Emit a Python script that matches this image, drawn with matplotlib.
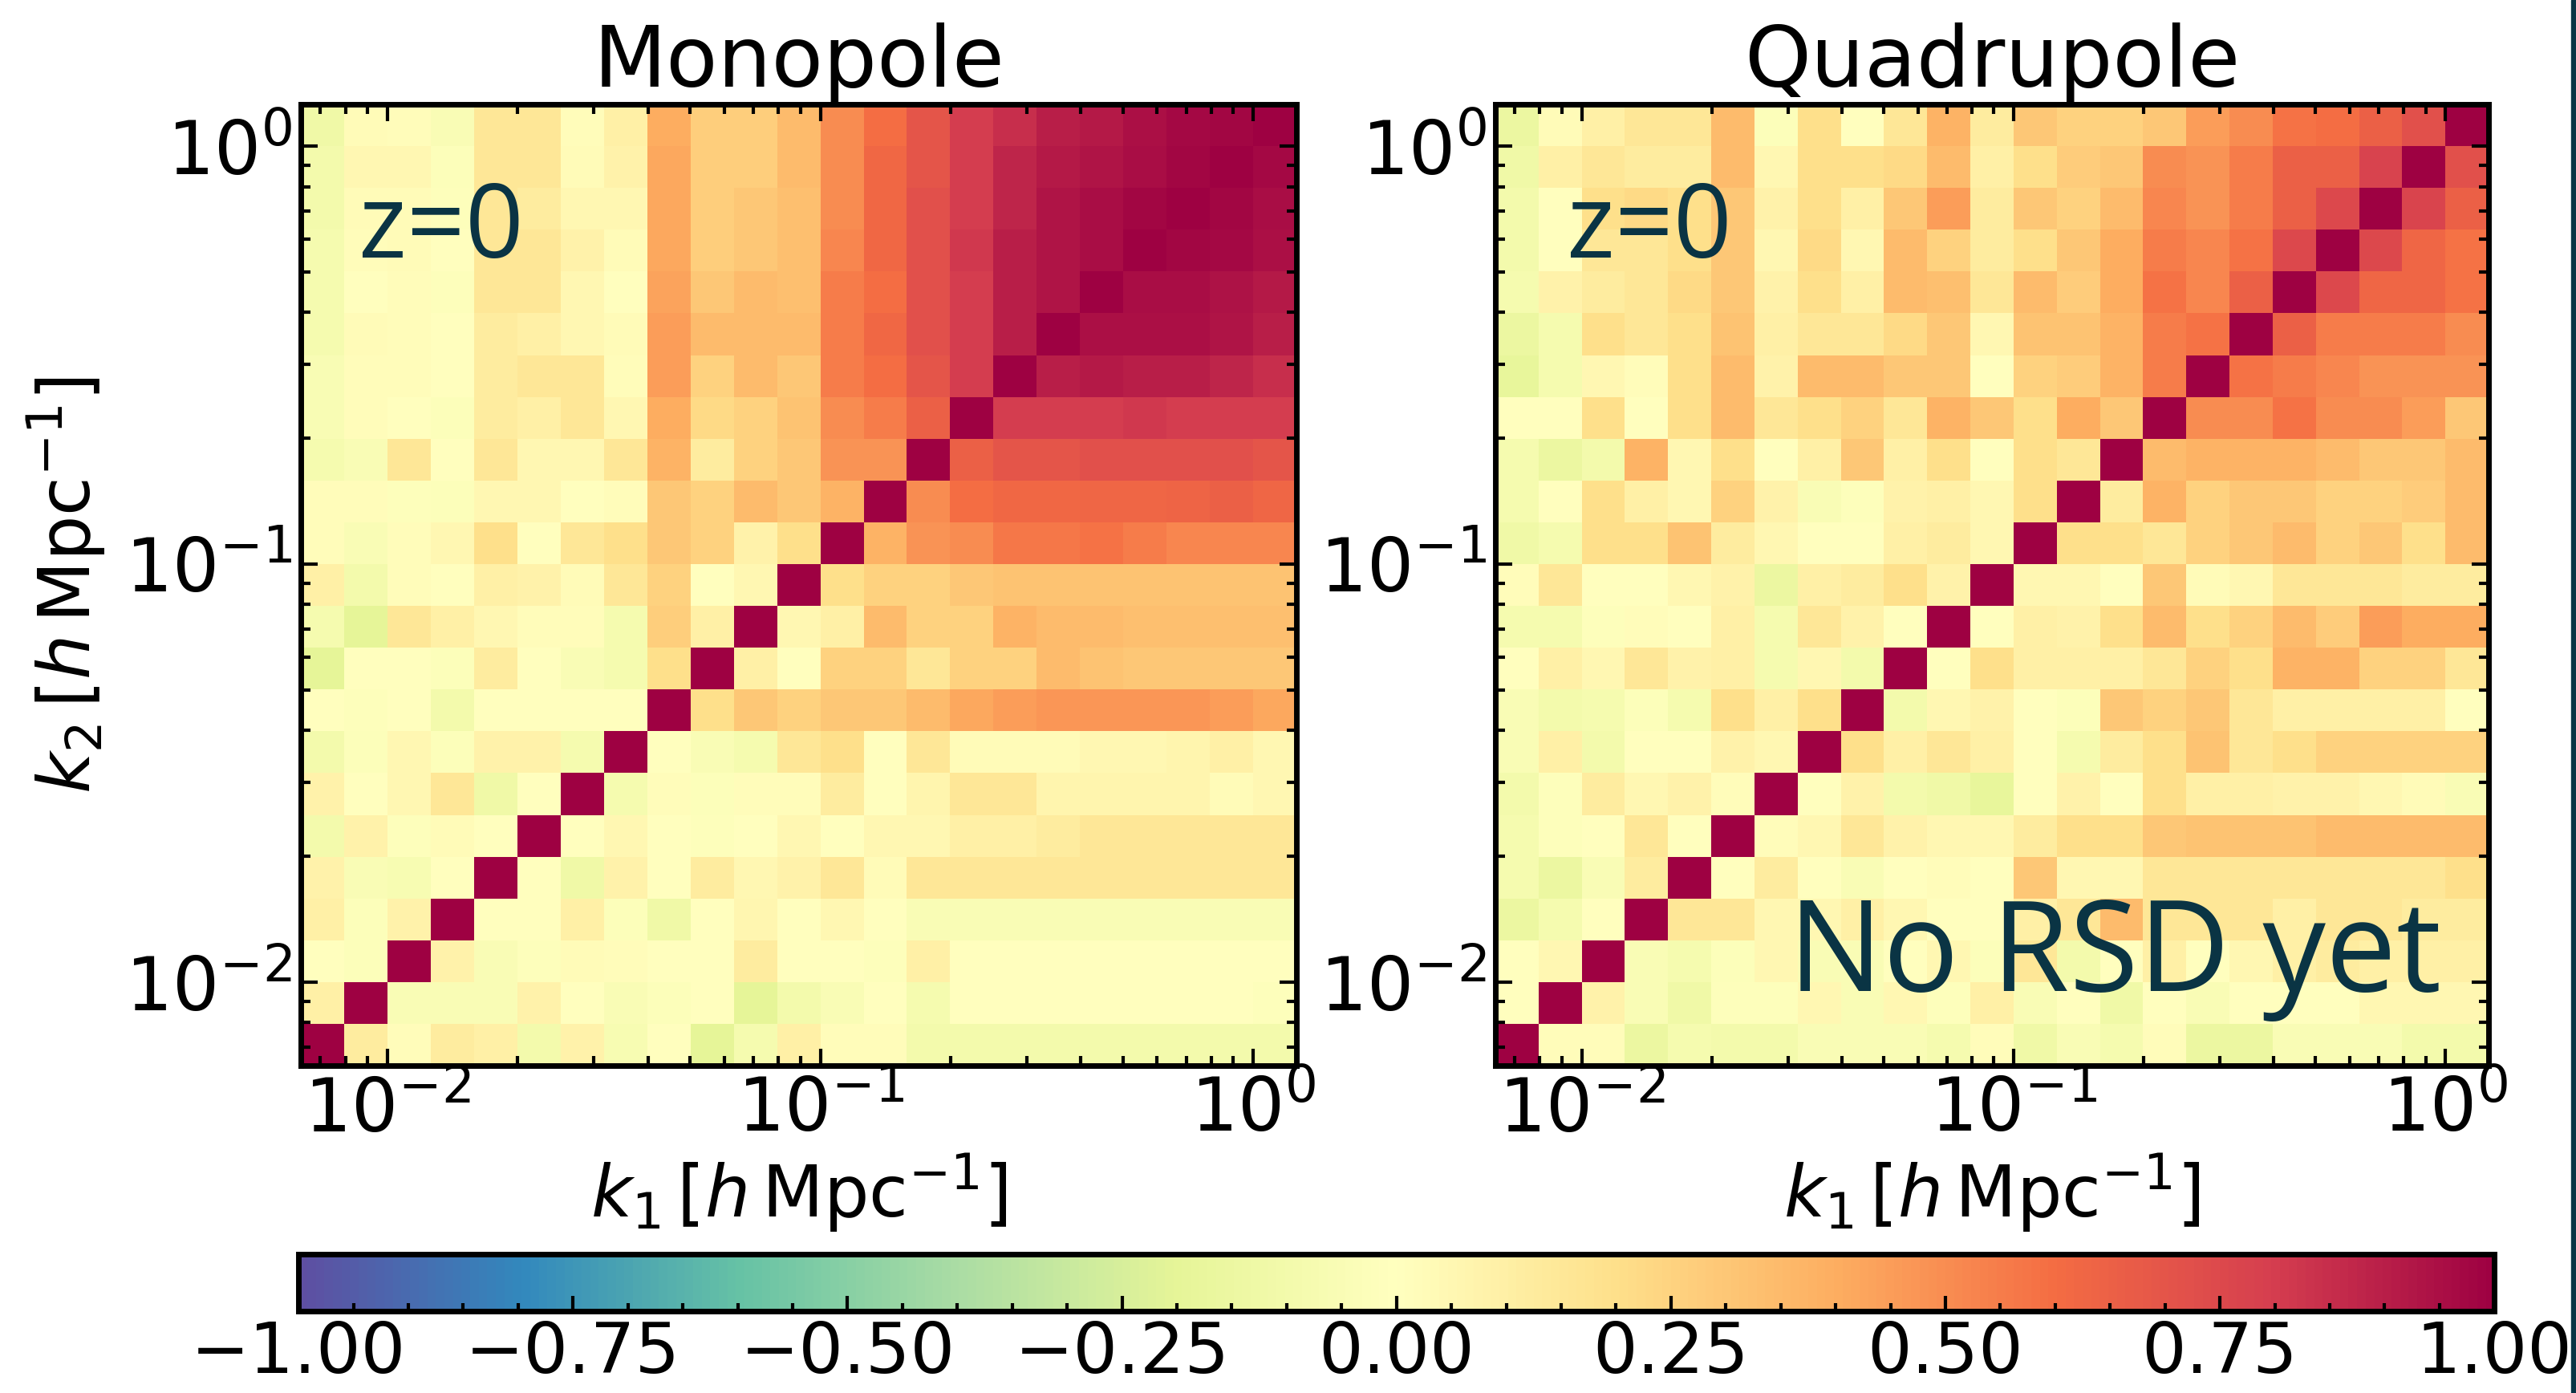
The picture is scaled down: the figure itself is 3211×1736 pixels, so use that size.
import numpy as np
import matplotlib
matplotlib.use('Agg')
import matplotlib.pyplot as plt
from matplotlib.patches import Rectangle

# 23 log-spaced k bins, 0.1 dex wide, from 10^-2.2 to 10^0.1 h/Mpc
n_bins = 23
k_edges = np.logspace(-2.2, 0.1, n_bins + 1)

# correlation matrices, row i = k2 bin i (lowest k first), column j = k1 bin j
mono_corr = [
    [1.0, 0.12, 0.02, 0.12, 0.1, -0.1, 0.08, -0.07, 0.0, -0.2, -0.08, 0.1, 0.02, 0.02, -0.1, -0.1, -0.1, -0.1, -0.1, -0.1, -0.1, -0.1, -0.1],
    [0.1, 1.0, -0.05, -0.05, -0.05, 0.08, 0.0, -0.05, -0.03, 0.0, -0.2, -0.1, -0.05, 0.0, -0.08, 0.0, 0.0, 0.0, 0.0, 0.0, 0.0, 0.0, -0.02],
    [0.0, -0.03, 1.0, 0.08, -0.05, -0.02, 0.03, 0.02, 0.0, 0.0, 0.12, 0.0, 0.0, -0.02, 0.1, 0.0, 0.0, 0.0, 0.0, 0.0, 0.0, 0.0, 0.0],
    [0.1, -0.03, 0.08, 1.0, 0.0, 0.0, 0.1, -0.03, -0.12, 0.0, 0.06, 0.0, 0.05, 0.0, -0.05, -0.05, -0.05, -0.05, -0.05, -0.05, -0.05, -0.05, -0.05],
    [0.08, -0.05, -0.07, 0.0, 1.0, 0.0, -0.12, 0.08, 0.0, 0.12, 0.05, 0.08, 0.15, 0.03, 0.15, 0.15, 0.15, 0.15, 0.15, 0.15, 0.15, 0.15, 0.15],
    [-0.1, 0.08, -0.02, 0.03, 0.0, 1.0, 0.0, 0.05, 0.0, -0.02, 0.0, 0.05, 0.0, 0.05, 0.05, 0.1, 0.1, 0.12, 0.15, 0.15, 0.15, 0.15, 0.15],
    [0.08, 0.0, 0.05, 0.15, -0.12, 0.0, 1.0, -0.08, 0.02, -0.03, 0.02, 0.02, 0.12, 0.0, 0.07, 0.15, 0.15, 0.07, 0.07, 0.07, 0.07, 0.03, 0.05],
    [-0.1, -0.03, 0.05, -0.03, 0.08, 0.08, -0.08, 1.0, 0.0, -0.05, -0.08, 0.15, 0.2, 0.0, 0.15, 0.03, 0.03, 0.03, 0.05, 0.05, 0.07, 0.1, 0.05],
    [0.0, -0.02, 0.0, -0.1, 0.0, 0.0, 0.0, 0.0, 1.0, 0.2, 0.3, 0.25, 0.3, 0.3, 0.35, 0.42, 0.45, 0.47, 0.47, 0.47, 0.47, 0.45, 0.42],
    [-0.2, 0.0, 0.0, -0.03, 0.12, 0.0, -0.05, -0.08, 0.2, 1.0, 0.1, 0.0, 0.25, 0.25, 0.15, 0.25, 0.25, 0.35, 0.32, 0.3, 0.3, 0.3, 0.3],
    [-0.08, -0.2, 0.15, 0.1, 0.05, 0.02, 0.02, -0.08, 0.27, 0.1, 1.0, 0.05, 0.1, 0.35, 0.25, 0.25, 0.38, 0.35, 0.35, 0.33, 0.33, 0.33, 0.33],
    [0.1, -0.1, 0.02, 0.0, 0.1, 0.08, 0.03, 0.15, 0.25, 0.0, 0.05, 1.0, 0.2, 0.25, 0.25, 0.3, 0.32, 0.32, 0.32, 0.32, 0.32, 0.32, 0.32],
    [0.02, -0.05, 0.02, 0.05, 0.2, 0.0, 0.15, 0.2, 0.3, 0.25, 0.08, 0.2, 1.0, 0.38, 0.48, 0.5, 0.57, 0.57, 0.58, 0.55, 0.52, 0.52, 0.52],
    [0.02, 0.02, -0.02, -0.03, 0.05, 0.05, 0.0, 0.02, 0.3, 0.25, 0.35, 0.3, 0.38, 1.0, 0.5, 0.6, 0.62, 0.62, 0.63, 0.63, 0.64, 0.65, 0.63],
    [-0.08, -0.05, 0.15, 0.0, 0.15, 0.05, 0.05, 0.15, 0.38, 0.12, 0.25, 0.3, 0.48, 0.48, 1.0, 0.65, 0.7, 0.7, 0.72, 0.72, 0.72, 0.72, 0.7],
    [-0.06, 0.02, 0.0, -0.03, 0.12, 0.1, 0.15, 0.05, 0.4, 0.22, 0.25, 0.32, 0.5, 0.55, 0.65, 1.0, 0.8, 0.8, 0.8, 0.82, 0.8, 0.8, 0.8],
    [-0.06, 0.02, 0.02, 0.0, 0.12, 0.15, 0.15, 0.02, 0.45, 0.25, 0.35, 0.3, 0.55, 0.6, 0.7, 0.8, 1.0, 0.9, 0.92, 0.9, 0.9, 0.88, 0.85],
    [-0.08, 0.03, 0.02, 0.0, 0.12, 0.1, 0.05, 0.03, 0.45, 0.35, 0.35, 0.35, 0.55, 0.62, 0.72, 0.8, 0.9, 1.0, 0.95, 0.95, 0.95, 0.93, 0.9],
    [-0.08, 0.0, 0.02, -0.02, 0.15, 0.15, 0.05, 0.0, 0.43, 0.3, 0.35, 0.33, 0.55, 0.6, 0.72, 0.8, 0.9, 0.93, 1.0, 0.96, 0.96, 0.94, 0.92],
    [-0.08, 0.02, 0.03, 0.0, 0.15, 0.15, 0.08, 0.03, 0.42, 0.27, 0.3, 0.33, 0.52, 0.62, 0.72, 0.82, 0.9, 0.93, 0.96, 1.0, 0.98, 0.97, 0.95],
    [-0.1, 0.03, 0.03, -0.02, 0.15, 0.12, 0.05, 0.05, 0.42, 0.27, 0.3, 0.33, 0.5, 0.62, 0.72, 0.8, 0.88, 0.93, 0.96, 0.98, 1.0, 0.98, 0.96],
    [-0.1, 0.05, 0.05, -0.03, 0.15, 0.15, 0.03, 0.08, 0.42, 0.27, 0.27, 0.35, 0.5, 0.62, 0.7, 0.8, 0.88, 0.92, 0.93, 0.96, 0.98, 1.0, 0.97],
    [-0.12, 0.03, 0.02, -0.05, 0.15, 0.15, 0.02, 0.1, 0.4, 0.27, 0.27, 0.35, 0.5, 0.6, 0.7, 0.8, 0.85, 0.9, 0.92, 0.95, 0.97, 0.98, 1.0],
]

quad_corr = [
    [1.0, 0.02, 0.02, -0.15, -0.08, -0.1, -0.1, -0.05, -0.05, -0.05, -0.08, 0.02, -0.12, -0.05, -0.08, 0.02, -0.15, -0.15, -0.05, -0.05, -0.05, -0.1, -0.1],
    [0.0, 1.0, 0.08, -0.05, -0.12, -0.02, -0.02, 0.05, -0.05, 0.05, -0.02, 0.1, -0.05, 0.0, -0.12, 0.0, -0.05, 0.0, 0.0, 0.0, 0.05, 0.05, 0.05],
    [0.0, 0.05, 1.0, -0.05, -0.08, -0.03, 0.05, -0.05, -0.05, 0.0, 0.05, -0.03, 0.15, -0.1, 0.0, 0.1, 0.0, 0.05, 0.1, 0.12, 0.1, 0.1, 0.1],
    [-0.15, -0.08, 0.0, 1.0, 0.15, 0.15, 0.05, 0.05, 0.1, 0.05, 0.0, 0.0, 0.1, 0.15, 0.35, 0.15, 0.15, 0.15, 0.1, 0.15, 0.15, 0.12, 0.12],
    [-0.08, -0.15, -0.05, 0.12, 1.0, 0.0, 0.12, 0.0, -0.05, 0.0, 0.02, 0.0, 0.3, 0.05, 0.05, 0.15, 0.15, 0.15, 0.15, 0.15, 0.15, 0.15, 0.2],
    [-0.08, -0.02, 0.0, 0.15, 0.0, 1.0, 0.02, 0.05, 0.15, 0.08, 0.05, 0.05, 0.12, 0.2, 0.2, 0.3, 0.32, 0.32, 0.32, 0.35, 0.35, 0.35, 0.35],
    [-0.1, -0.02, 0.12, 0.05, 0.08, 0.02, 1.0, 0.0, 0.08, -0.1, -0.12, -0.18, 0.0, 0.08, 0.0, 0.2, 0.1, 0.1, 0.08, 0.08, 0.05, 0.03, -0.05],
    [-0.05, 0.1, -0.1, 0.0, 0.0, 0.08, 0.05, 1.0, 0.2, 0.1, 0.15, 0.1, 0.0, -0.08, 0.12, 0.2, 0.32, 0.15, 0.2, 0.25, 0.25, 0.25, 0.25],
    [-0.05, -0.1, -0.08, -0.03, -0.08, 0.2, 0.1, 0.2, 1.0, -0.1, 0.05, 0.08, 0.0, -0.03, 0.3, 0.25, 0.3, 0.15, 0.1, 0.1, 0.1, 0.1, 0.0],
    [0.0, 0.1, 0.05, 0.15, 0.08, 0.1, -0.08, 0.05, -0.1, 1.0, 0.0, 0.2, 0.1, 0.1, 0.1, 0.15, 0.25, 0.2, 0.38, 0.38, 0.25, 0.25, 0.15],
    [-0.08, -0.08, -0.02, 0.02, 0.0, 0.1, -0.08, 0.15, 0.08, 0.0, 1.0, 0.0, 0.1, 0.08, 0.2, 0.35, 0.2, 0.25, 0.35, 0.28, 0.45, 0.4, 0.4],
    [0.02, 0.15, 0.0, 0.0, 0.05, 0.08, -0.15, 0.1, 0.12, 0.2, 0.08, 1.0, 0.05, 0.05, 0.0, 0.3, 0.03, 0.05, 0.15, 0.15, 0.15, 0.12, 0.12],
    [-0.12, -0.08, 0.2, 0.2, 0.32, 0.12, 0.05, 0.0, 0.0, 0.1, 0.12, 0.05, 1.0, 0.2, 0.2, 0.15, 0.25, 0.3, 0.35, 0.25, 0.3, 0.2, 0.35],
    [-0.08, 0.0, 0.2, 0.1, 0.05, 0.25, 0.08, -0.05, -0.02, 0.08, 0.1, 0.05, 0.2, 1.0, 0.12, 0.38, 0.25, 0.3, 0.3, 0.25, 0.25, 0.28, 0.35],
    [-0.08, -0.15, -0.1, 0.38, 0.05, 0.2, 0.0, 0.1, 0.3, 0.1, 0.2, 0.0, 0.2, 0.15, 1.0, 0.35, 0.38, 0.38, 0.38, 0.35, 0.3, 0.3, 0.35],
    [0.0, 0.0, 0.2, 0.0, 0.2, 0.35, 0.15, 0.2, 0.25, 0.15, 0.38, 0.3, 0.2, 0.4, 0.3, 1.0, 0.5, 0.5, 0.58, 0.5, 0.5, 0.45, 0.3],
    [-0.18, -0.08, 0.05, 0.02, 0.2, 0.35, 0.08, 0.35, 0.35, 0.3, 0.3, 0.0, 0.25, 0.28, 0.38, 0.55, 1.0, 0.58, 0.55, 0.52, 0.48, 0.48, 0.48],
    [-0.15, -0.08, 0.2, 0.15, 0.2, 0.32, 0.1, 0.15, 0.15, 0.22, 0.3, 0.05, 0.32, 0.32, 0.38, 0.55, 0.58, 1.0, 0.65, 0.55, 0.55, 0.55, 0.5],
    [-0.08, 0.08, 0.12, 0.15, 0.22, 0.3, 0.08, 0.2, 0.1, 0.35, 0.33, 0.15, 0.35, 0.28, 0.4, 0.58, 0.52, 0.65, 1.0, 0.75, 0.63, 0.63, 0.58],
    [-0.1, 0.0, 0.15, 0.15, 0.2, 0.3, 0.05, 0.22, 0.05, 0.35, 0.25, 0.12, 0.2, 0.3, 0.4, 0.55, 0.52, 0.58, 0.75, 1.0, 0.75, 0.63, 0.58],
    [-0.1, 0.0, 0.2, 0.22, 0.2, 0.3, 0.08, 0.2, 0.1, 0.3, 0.45, 0.12, 0.3, 0.25, 0.35, 0.52, 0.48, 0.55, 0.65, 0.75, 1.0, 0.77, 0.65],
    [-0.12, 0.1, 0.15, 0.12, 0.12, 0.35, 0.05, 0.2, 0.2, 0.22, 0.35, 0.1, 0.2, 0.28, 0.3, 0.5, 0.48, 0.55, 0.65, 0.65, 0.78, 1.0, 0.72],
    [-0.15, 0.03, 0.1, 0.15, 0.15, 0.35, -0.03, 0.2, 0.0, 0.15, 0.38, 0.12, 0.3, 0.25, 0.25, 0.3, 0.45, 0.5, 0.58, 0.6, 0.65, 0.72, 1.0],
]

panel_titles = ['Monopole', 'Quadrupole']
cbar_ticks = [-1.0, -0.75, -0.5, -0.25, 0.0, 0.25, 0.5, 0.75, 1.0]

note_color = '#0a3444'
label_k1 = r'$k_1\,[h\,\mathrm{Mpc}^{-1}]$'
label_k2 = r'$k_2\,[h\,\mathrm{Mpc}^{-1}]$'

fig = plt.figure(figsize=(32.11, 17.36), dpi=100)
ax_l = fig.add_axes([0.1168, 0.2350, 0.3865, 0.6901])
ax_r = fig.add_axes([0.5805, 0.2350, 0.3856, 0.6901])
cax = fig.add_axes([0.1159, 0.0588, 0.8524, 0.0409])

for ax, corr, title in zip([ax_l, ax_r], [mono_corr, quad_corr], panel_titles):
    mesh = ax.pcolormesh(k_edges, k_edges, np.array(corr), cmap='Spectral_r',
                         vmin=-1, vmax=1, shading='flat')
    ax.set_xscale('log')
    ax.set_yscale('log')
    ax.set_xlim(k_edges[0], k_edges[-1])
    ax.set_ylim(k_edges[0], k_edges[-1])
    ax.tick_params(which='both', direction='in', top=True, right=True,
                   labelsize=66, width=3, pad=8)
    ax.tick_params(which='major', length=15)
    ax.tick_params(which='minor', length=8.5)
    for sp in ax.spines.values():
        sp.set_linewidth(5)
    ax.set_title(title, fontsize=76, pad=16)
    ax.set_xlabel(label_k1, fontsize=64, labelpad=4)

ax_l.set_ylabel(label_k2, fontsize=64, labelpad=16)

ax_l.text(0.058, 0.868, 'z=0', transform=ax_l.transAxes, fontsize=92,
          family='Open Sans', color=note_color, ha='left', va='center')
ax_r.text(0.072, 0.868, 'z=0', transform=ax_r.transAxes, fontsize=92,
          family='Open Sans', color=note_color, ha='left', va='center')
ax_r.text(0.295, 0.078, 'No RSD yet', transform=ax_r.transAxes, fontsize=113,
          family='Open Sans', color=note_color, ha='left', va='baseline')

cb = fig.colorbar(mesh, cax=cax, orientation='horizontal', ticks=cbar_ticks)
cb.ax.minorticks_on()
cb.ax.tick_params(which='both', direction='in', labelsize=63, width=3, pad=8)
cb.ax.tick_params(which='major', length=14)
cb.ax.tick_params(which='minor', length=7)
cb.outline.set_linewidth(5)
cb.ax.set_xticklabels([('%.2f' % t).replace('-', '\u2212') for t in cbar_ticks])

# thin dark strip along the right edge
fig.patches.append(Rectangle((3205 / 3211, 0), 6 / 3211, 1, transform=fig.transFigure,
                             color=note_color, zorder=10))

fig.savefig('out.png', dpi=100)
